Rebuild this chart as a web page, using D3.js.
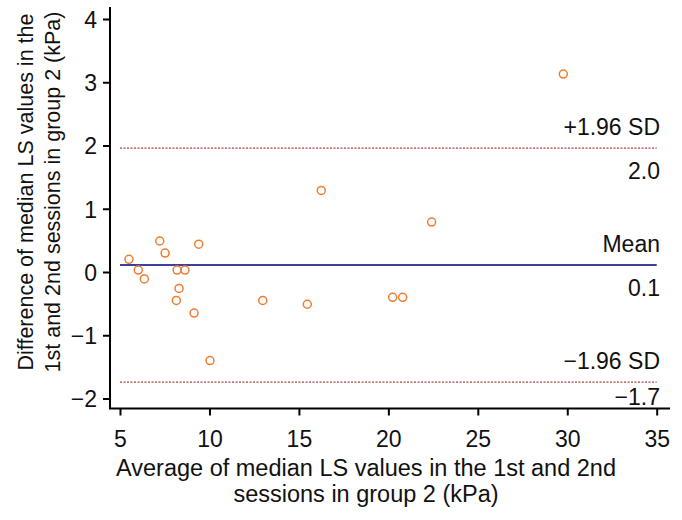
<html>
    <head>
        <script src="https://d3js.org/d3.v7.min.js"></script>
        <style>
            body { margin: 0; background: #fff; }
            text { font-family: "Liberation Sans", Arial, Helvetica, sans-serif; fill: #111; }
        </style>
    </head>
    <body>
        <svg id="svg" width="682" height="520"></svg>
        <script>
            // averages (x) and differences (y)
            var avgValues  = [5.50, 6.02, 6.36, 7.22, 7.52, 8.19, 8.63, 8.30, 8.15, 9.40, 9.14, 10.03, 12.98, 15.47, 16.25, 20.24, 20.80, 22.42, 29.78];
            var diffValues = [0.20, 0.03, -0.11, 0.49, 0.30, 0.03, 0.03, -0.26, -0.45, 0.44, -0.65, -1.40, -0.45, -0.51, 1.29, -0.40, -0.40, 0.79, 3.13];
            var xTicks = [5, 10, 15, 20, 25, 30, 35];
            var yTicks = [-2, -1, 0, 1, 2, 3, 4];
            var refNames  = ["+1.96 SD", "Mean", "\u22121.96 SD"];
            var refValues = [1.96, 0.11, -1.74];
            var refLabels = ["2.0", "0.1", "\u22121.7"];

            var svg = d3.select("svg");

            var x = d3.scaleLinear().domain([5, 35]).range([120, 656.7]);
            var y = d3.scaleLinear().domain([0, 4]).range([272, 19]);

            // axis lines
            svg.append("line").attr("x1", 110).attr("x2", 110)
                .attr("y1", y(4.19)).attr("y2", 409)
                .attr("stroke", "#000").attr("stroke-width", 2);
            svg.append("line").attr("x1", 109).attr("x2", 670)
                .attr("y1", 408.5).attr("y2", 408.5)
                .attr("stroke", "#000").attr("stroke-width", 2);

            var yAxis = svg.append("g").attr("transform", "translate(110,0)")
                .call(d3.axisLeft(y).tickValues(yTicks).tickSize(7).tickPadding(6)
                    .tickFormat(function(d){ return d < 0 ? "\u2212" + Math.abs(d) : d; }));
            yAxis.select(".domain").remove();
            yAxis.selectAll("line").attr("stroke-width", 2);
            yAxis.selectAll("text").attr("font-size", 23).attr("dy", "0.36em")
                .style("font-family", "'Liberation Sans', Arial, sans-serif");

            var xAxis = svg.append("g").attr("transform", "translate(0,408.5)")
                .call(d3.axisBottom(x).tickValues(xTicks).tickSize(7).tickPadding(15));
            xAxis.select(".domain").remove();
            xAxis.selectAll("line").attr("stroke-width", 2);
            xAxis.selectAll("text").attr("font-size", 23)
                .style("font-family", "'Liberation Sans', Arial, sans-serif");

            // reference lines
            refValues.forEach(function(v, i){
                var isMean = i === 1;
                svg.append("line")
                    .attr("x1", x(5)).attr("x2", x(35))
                    .attr("y1", y(v)).attr("y2", y(v))
                    .attr("stroke", isMean ? "#3b3f9e" : "#a8443c")
                    .attr("stroke-width", isMean ? 2 : 1.2)
                    .attr("stroke-dasharray", isMean ? null : "2,1.5");
                svg.append("text").attr("x", 660).attr("y", y(v) - 13)
                    .attr("text-anchor", "end").attr("font-size", 23)
                    .text(refNames[i]);
                svg.append("text").attr("x", 660).attr("y", Math.min(y(v) + 31, 405))
                    .attr("text-anchor", "end").attr("font-size", 23)
                    .text(refLabels[i]);
            });

            // points
            svg.append("g").selectAll("circle")
                .data(avgValues)
                .enter().append("circle")
                .attr("cx", function(d){ return x(d); })
                .attr("cy", function(d, i){ return y(diffValues[i]); })
                .attr("r", 4)
                .attr("fill", "none")
                .attr("stroke", "#ef7d30")
                .attr("stroke-width", 1.5);

            // axis titles
            var xt = svg.append("text").attr("text-anchor", "middle").attr("font-size", 23.5);
            xt.append("tspan").attr("x", 366).attr("y", 476).text("Average of median LS values in the 1st and 2nd");
            xt.append("tspan").attr("x", 366).attr("y", 502).text("sessions in group 2 (kPa)");

            var yt = svg.append("text").attr("text-anchor", "middle").attr("font-size", 21.5)
                .attr("transform", "translate(0,192) rotate(-90)");
            yt.append("tspan").attr("x", 0).attr("y", 33).text("Difference of median LS values in the");
            yt.append("tspan").attr("x", 0).attr("y", 60).text("1st and 2nd sessions in group 2 (kPa)");
        </script>
    </body>
</html>
